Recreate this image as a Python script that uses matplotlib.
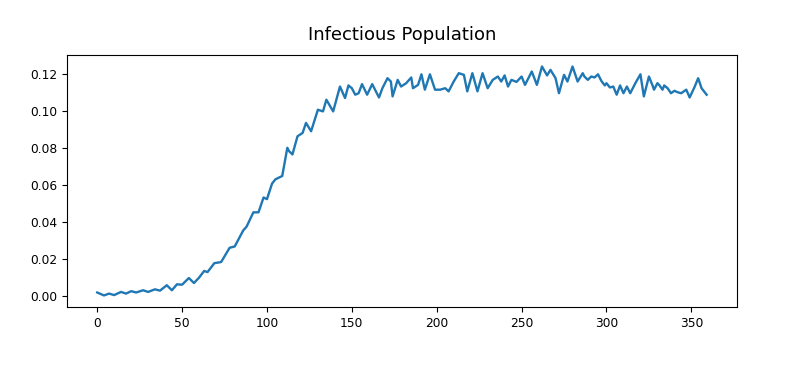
import matplotlib
matplotlib.use("Agg")
import matplotlib.pyplot as plt

days = [0, 4, 7, 10, 14, 17, 20, 23, 27, 30, 34, 37, 41, 44, 47, 50, 54, 57,
        60, 63, 65, 69, 73, 78, 81, 86, 88, 92, 95, 98, 100, 103, 105, 109,
        112, 113, 115, 118, 121, 123, 126, 130, 133, 135, 139, 143, 146, 148,
        150, 152, 154, 156, 159, 162, 166, 168, 171, 173, 174, 177, 179, 182,
        185, 186, 189, 191, 193, 196, 199, 202, 205, 207, 210, 213, 216, 218,
        221, 224, 227, 230, 233, 236, 238, 240, 242, 244, 247, 250, 252, 256,
        259, 262, 265, 267, 270, 272, 275, 277, 280, 283, 286, 287, 289, 291,
        293, 295, 297, 299, 300, 302, 304, 306, 308, 310, 312, 314, 317, 320,
        322, 325, 327, 328, 330, 331, 333, 334, 336, 338, 340, 342, 344, 347,
        349, 352, 354, 356, 359]
infectious = [0.0020, 0.0004, 0.0014, 0.0006, 0.0023, 0.0014, 0.0027, 0.0020,
              0.0032, 0.0023, 0.0037, 0.0030, 0.0059, 0.0032, 0.0064, 0.0062,
              0.0098, 0.0071, 0.0100, 0.0136, 0.0130, 0.0178, 0.0184, 0.0261,
              0.0268, 0.0354, 0.0375, 0.0452, 0.0452, 0.0532, 0.0523, 0.0607,
              0.0630, 0.0648, 0.0800, 0.0782, 0.0764, 0.0862, 0.0880, 0.0934,
              0.0889, 0.1005, 0.0996, 0.1059, 0.0996, 0.1130, 0.1068, 0.1136,
              0.1121, 0.1086, 0.1094, 0.1143, 0.1086, 0.1143, 0.1071, 0.1121,
              0.1175, 0.1157, 0.1077, 0.1166, 0.1130, 0.1148, 0.1179, 0.1121,
              0.1139, 0.1196, 0.1113, 0.1196, 0.1113, 0.1113, 0.1121, 0.1104,
              0.1157, 0.1202, 0.1193, 0.1104, 0.1202, 0.1104, 0.1202, 0.1121,
              0.1166, 0.1184, 0.1157, 0.1190, 0.1130, 0.1166, 0.1155, 0.1184,
              0.1139, 0.1211, 0.1139, 0.1238, 0.1190, 0.1220, 0.1175, 0.1094,
              0.1193, 0.1157, 0.1238, 0.1157, 0.1202, 0.1184, 0.1166, 0.1184,
              0.1179, 0.1196, 0.1160, 0.1136, 0.1148, 0.1125, 0.1130, 0.1086,
              0.1136, 0.1094, 0.1130, 0.1094, 0.1148, 0.1196, 0.1077, 0.1184,
              0.1139, 0.1113, 0.1148, 0.1139, 0.1113, 0.1136, 0.1121, 0.1094,
              0.1107, 0.1099, 0.1094, 0.1113, 0.1071, 0.1130, 0.1175, 0.1121,
              0.1086]

title = "Infectious Population"

fig = plt.figure(figsize=(7.85, 3.72), dpi=100)
ax = fig.add_axes([0.085, 0.175, 0.854, 0.677])
ax.plot(days, infectious, color="#1f77b4", linewidth=1.7,
        solid_joinstyle="round")
ax.set_title(title, fontsize=13, pad=11)
ax.tick_params(labelsize=8.8)
fig.savefig("out.png", dpi=100)
